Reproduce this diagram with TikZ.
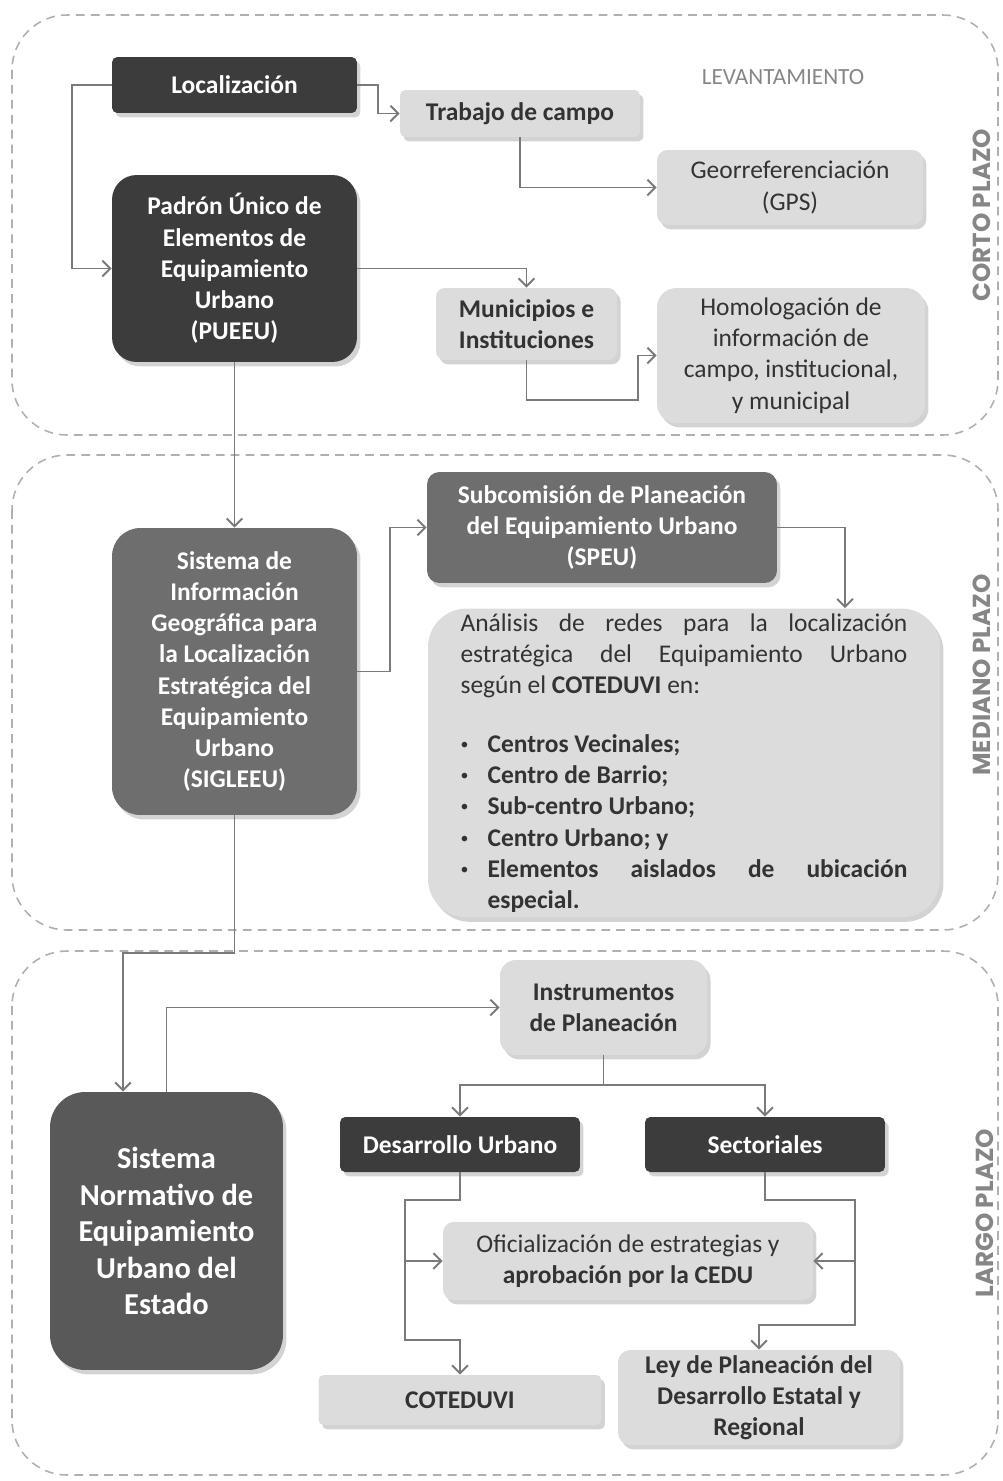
\documentclass[tikz,border=0pt]{standalone}
\usepackage{fontspec}
\setmainfont{Carlito}
\newfontfamily\plazofont{Poppins}
\usetikzlibrary{arrows.meta,shadows,calc}
\definecolor{dcol}{HTML}{3C3C3C}
\definecolor{ncol}{HTML}{595959}
\definecolor{mcol}{HTML}{6E6E6E}
\definecolor{lcol}{HTML}{DCDCDC}
\definecolor{tcol}{HTML}{333333}
\definecolor{ecol}{HTML}{7A7A7A}
\definecolor{zcol}{HTML}{B0B0B0}
\definecolor{pcol}{HTML}{868686}
\newcommand{\itm}[1]{\noindent\hangindent=0.54cm\hangafter=1\makebox[0.54cm][l]{\raisebox{0.12em}{\fontsize{9}{9}\selectfont\textbullet}}\textbf{#1}\par}
\tikzset{every picture/.style={x=0.02cm,y=-0.02cm}}
\tikzset{box/.style={rounded corners=3pt,align=center,inner sep=2pt,drop shadow={shadow xshift=2pt,shadow yshift=-2.5pt,opacity=.35}}}
\tikzset{dark/.style={box,fill=dcol,text=white,font=\fontsize{14.5}{17.8}\selectfont\bfseries}}
\tikzset{mid/.style={box,fill=mcol,text=white,font=\fontsize{14.5}{17.8}\selectfont\bfseries}}
\tikzset{light/.style={box,fill=lcol,text=tcol,font=\fontsize{14.5}{17.8}\selectfont}}
\tikzset{lightb/.style={light,font=\fontsize{14.5}{17.8}\selectfont\bfseries}}
\tikzset{link/.style={ecol,line width=1.1pt,-{Straight Barb[length=4.5pt,width=9pt]}}}
\tikzset{zone/.style={zcol,line width=0.9pt,dash pattern=on 5pt off 3.5pt,rounded corners=1.1cm}}
\tikzset{plazo/.style={rotate=90,text=pcol,font=\plazofont\bfseries\fontsize{14}{16}\selectfont}}

\begin{document}
\begin{tikzpicture}
\useasboundingbox (0,0) rectangle (1002,1481);

\draw [zone] (12,15) rectangle (998,435);
\draw [zone] (12,455) rectangle (998,930);
\draw [zone] (12,951) rectangle (998,1475);

\node [plazo] (corto) at (982,215) {CORTO PLAZO};
\node [plazo] (mediano) at (982,675) {MEDIANO PLAZO};
\node [plazo] (largo) at (985,1213) {LARGO PLAZO};
\node [text=pcol,font=\fontsize{13.2}{15}\selectfont] (lev) at (783,77) {LEVANTAMIENTO};

\node [dark,minimum width=4.9cm,minimum height=1.12cm] (loc) at (234.5,85) {Localización};
\node [lightb,minimum width=4.8cm,minimum height=0.94cm] (trab) at (520,113.5) {Trabajo de campo};
\node [light,minimum width=5.32cm,minimum height=1.5cm,rounded corners=6pt] (geo) at (790,187.5) {Georreferenciación\\(GPS)};
\node [dark,minimum width=4.9cm,minimum height=3.74cm,rounded corners=14pt] (pueeu) at (234.5,268.5) {Padrón Único de\\Elementos de\\Equipamiento\\Urbano\\(PUEEU)};
\node [lightb,minimum width=3.62cm,minimum height=1.44cm,rounded corners=5pt] (mun) at (526.5,324) {Municipios e\\Instituciones};
\node [light,minimum width=5.36cm,minimum height=2.7cm,rounded corners=11pt] (hom) at (791,355.5) {Homologación de\\información de\\campo, institucional,\\y municipal};

\node [mid,minimum width=7cm,minimum height=2.22cm,rounded corners=7pt] (speu) at (602,527.5) {Subcomisión de Planeación\\del Equipamiento Urbano\\(SPEU)};
\node [mid,minimum width=4.9cm,minimum height=5.74cm,rounded corners=16pt] (sig) at (234.5,671.5) {Sistema de\\Información\\Geográfica para\\la Localización\\Estratégica del\\Equipamiento\\Urbano\\(SIGLEEU)};
\node [light,text width=8.94cm,inner xsep=0.65cm,inner ysep=0pt,minimum height=6.18cm,rounded corners=22pt,align=justify] (ana) at (684,763) {Análisis de redes para la localización\linebreak estratégica del Equipamiento Urbano\linebreak según el \textbf{COTEDUVI} en:\par\vskip 0.55cm
\itm{Centros Vecinales;}
\itm{Centro de Barrio;}
\itm{Sub-centro Urbano;}
\itm{Centro Urbano; y}
\itm{Elementos aislados de ubicación\linebreak especial.}};

\node [lightb,minimum width=4.14cm,minimum height=1.9cm,rounded corners=9pt] (inst) at (603.5,1007.5) {Instrumentos\\de Planeación};
\node [box,fill=ncol,text=white,font=\fontsize{17.3}{20.8}\selectfont\bfseries,minimum width=4.66cm,minimum height=5.56cm,rounded corners=20pt] (snorm) at (166.5,1231) {Sistema\\Normativo de\\Equipamiento\\Urbano del\\Estado};
\node [dark,minimum width=4.8cm,minimum height=1.1cm] (des) at (460,1144.5) {Desarrollo Urbano};
\node [dark,minimum width=4.8cm,minimum height=1.1cm] (sec) at (765,1144.5) {Sectoriales};
\node [light,minimum width=7.4cm,minimum height=1.56cm,rounded corners=6pt] (ofi) at (628,1261) {Oficialización de estrategias y\\\textbf{aprobación por la CEDU}};
\node [lightb,minimum width=5.66cm,minimum height=1cm] (cot) at (460,1400) {COTEDUVI};
\node [lightb,minimum width=5.64cm,minimum height=1.9cm,rounded corners=7pt] (ley) at (759,1397.5) {Ley de Planeación del\\Desarrollo Estatal y\\Regional};

\draw [link] (loc.west) -- ++(-40,0) |- (pueeu.west);
\draw [link] (loc.east) -- ++(21,0) |- (trab.west);
\draw [link] (trab.south) |- (geo.west);
\draw [link] (pueeu.east) -| (mun.north);
\draw [link] (mun.south) -- ++(0,40) -| ($(hom.west)+(-19,0)$) -- (hom.west);

\draw [link] (pueeu.south) -- (sig.north);
\draw [link] (sig.east) -- ++(33,0) |- (speu.west);
\draw [link] (speu.east) -| ($(ana.north)+(161,0)$);

\draw [link] (sig.south) -- ++(0,138) -| ($(snorm.north)+(-43.5,0)$);
\draw [link] (snorm.north) |- (inst.west);
\draw [link] (inst.south) -- ++(0,30) -| (des.north);
\draw [link] (inst.south) -- ++(0,30) -| (sec.north);

\draw [link] (des.south) -- ++(0,28) -- ++(-55,0) |- ($(cot.north)+(0,-35)$) -- (cot.north);
\draw [link] ($(ofi.west)+(-38,0)$) -- (ofi.west);
\draw [link] (sec.south) -- ++(0,28) -- ++(90,0) |- ($(ley.north)+(0,-25)$) -- (ley.north);
\draw [link] ($(ofi.east)+(42,0)$) -- (ofi.east);
\end{tikzpicture}
\end{document}
